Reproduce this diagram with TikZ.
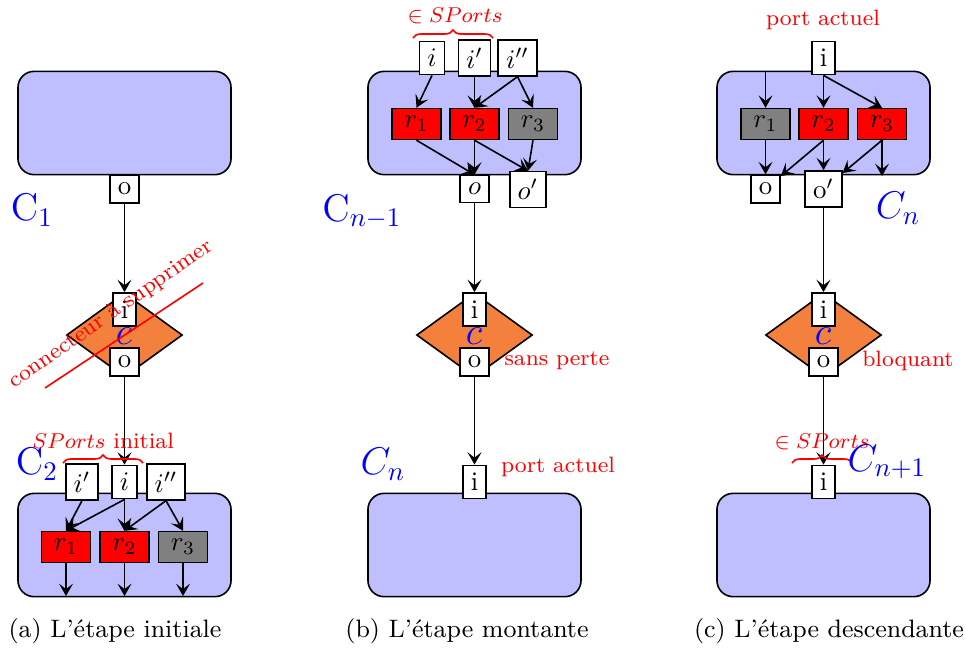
\documentclass[tikz,border=0pt]{standalone}
\usetikzlibrary{shapes.geometric,arrows.meta,decorations.pathreplacing}
\definecolor{lav}{RGB}{191,191,255}
\definecolor{diam}{RGB}{244,128,62}
\begin{document}
\begin{tikzpicture}[x=0.3727pt,y=-0.3727pt,
  >={Stealth[length=4.6pt,width=5.2pt,inset=2pt]},
  every path/.style={line width=0.6pt},
  lab/.style={font=\fontsize{8.3}{10}\selectfont},
  plab/.style={font=\fontsize{10}{12}\selectfont},
  comp/.style={draw,fill=lav,rounded corners=6pt,minimum width=79.4pt,minimum height=38.5pt,inner sep=0pt},
  dia/.style={draw,fill=diam,diamond,minimum width=43.2pt,minimum height=31.3pt,inner sep=0pt},
  port/.style={draw,fill=white,inner sep=2.9pt,plab},
  resA/.style={draw,fill=red,minimum width=18.2pt,minimum height=11.5pt,inner sep=0pt,plab},
  resI/.style={draw,fill=gray,minimum width=18.2pt,minimum height=11.5pt,inner sep=0pt,plab},
  big/.style={blue,font=\fontsize{14.4}{16}\selectfont,inner sep=0pt},
  note/.style={red,lab,inner sep=0pt},
  brc/.style={red,decorate,decoration={brace,amplitude=3pt}},
  captxt/.style={font=\fontsize{9.4}{12}\selectfont,inner sep=0pt}
]
\useasboundingbox (0,0) rectangle (966,649);

% ================= panel (a)
\node[comp] (CA1) at (124.5,123) {};
\node[comp] (CA2) at (124.5,545) {};
\node[dia] (dA) at (124.5,335) {};
\node[port] (oA1) at (124.5,189) {o};
\node[port] (iAd) at (124.5,309.5) {i};
\node[port] (oAd) at (124.5,362) {o};
\node[big] (cA) at (124,336) {$c$};
\node[port] (ipA) at (82,482) {$i'$};
\node[port] (iA) at (124.5,482) {$i$};
\node[port] (ippA) at (166,482) {$i''$};
\node[resA] (r1A) at (66,547) {$r_1$};
\node[resA] (r2A) at (124.5,547) {$r_2$};
\node[resI] (r3A) at (183,547) {$r_3$};
\coordinate (eA1) at (66,596);
\coordinate (eA2) at (124.5,596);
\coordinate (eA3) at (183,596);
\draw[->] (oA1) -- (iAd);
\draw[->] (oAd) -- (iA);
\draw[->] (ipA.south) -- (r1A.north);
\draw[->] (iA.south) -- (r1A.north);
\draw[->] (iA) -- (r2A);
\draw[->] (ippA.south) -- (r2A.north);
\draw[->] (ippA.south) -- (r3A.north);
\draw[->] (r1A) -- (eA1);
\draw[->] (r2A) -- (eA2);
\draw[->] (r3A) -- (eA3);
\node[big] (LC1) at (32,210) {$\mathrm{C}_1$};
\node[big] (LC2) at (37,464) {$\mathrm{C}_2$};
\coordinate (bA1) at (63,463);
\coordinate (bA2) at (143,463);
\draw[brc] (bA1) -- (bA2);
\node[note] (spA) at (103,441) {$SPorts$ initial};
\node[note,rotate=35] (del) at (111,314) {connecteur à supprimer};
\coordinate (sA1) at (45,388);
\coordinate (sA2) at (203,283);
\draw[red] (sA1) -- (sA2);
\node[captxt] (capA) at (115,631) {(a) L’étape initiale};

% ================= panel (b)
\node[comp] (CB1) at (474.5,123) {};
\node[comp] (CB2) at (474.5,545) {};
\node[dia] (dB) at (474.5,335) {};
\node[port] (iB) at (432,58) {$i$};
\node[port] (ipB) at (474.5,58) {$i'$};
\node[port] (ippB) at (517.5,58) {$i''$};
\node[resA] (r1B) at (416.5,124) {$r_1$};
\node[resA] (r2B) at (474.5,124) {$r_2$};
\node[resI] (r3B) at (533,124) {$r_3$};
\node[port] (oB) at (474.5,189) {$o$};
\node[port] (opB) at (528,189.5) {$o'$};
\node[port] (iBd) at (474.5,309.5) {i};
\node[port] (oBd) at (474.5,362) {o};
\node[big] (cB) at (474,336) {$c$};
\node[port] (iB2) at (474.5,482) {i};
\draw[->] (iB.south) -- (r1B.north);
\draw[->] (ipB) -- (r2B);
\draw[->] (ippB.south) -- (r2B.north);
\draw[->] (ippB.south) -- (r3B.north);
\draw[->] (r1B.south) -- (oB.north);
\draw[->] (r2B) -- (oB);
\draw[->] (r2B.south) -- (opB.north);
\draw[->] (r3B.south) -- (opB.north);
\draw[->] (oB) -- (iBd);
\draw[->] (oBd) -- (iB2);
\coordinate (bB1) at (413,38);
\coordinate (bB2) at (493,38);
\draw[brc] (bB1) -- (bB2);
\node[note] (spB) at (455,16) {$\in SPorts$};
\node[big] (LCB1) at (362,212) {$\mathrm{C}_{n-1}$};
\node[big] (LCB2) at (383,464) {$C_n$};
\node[note] (spB2) at (557,361) {sans perte};
\node[note] (paB) at (558,467) {port actuel};
\node[captxt] (capB) at (467,631) {(b) L’étape montante};

% ================= panel (c)
\node[comp] (CC1) at (823.5,123) {};
\node[comp] (CC2) at (823.5,545) {};
\node[dia] (dC) at (823.5,335) {};
\node[port] (iC) at (823.5,58) {i};
\node[resI] (r1C) at (765.5,124) {$r_1$};
\node[resA] (r2C) at (823.5,124) {$r_2$};
\node[resA] (r3C) at (882,124) {$r_3$};
\node[port] (oC) at (765.5,189) {o};
\node[port] (opC) at (823.5,189) {o$'$};
\node[port] (iCd) at (823.5,309.5) {i};
\node[port] (oCd) at (823.5,362) {o};
\node[big] (cC) at (823,336) {$c$};
\node[port] (iC2) at (823.5,482) {i};
\coordinate (tC) at (765.5,71);
\coordinate (bC) at (882,176);
\draw[->] (tC) -- (r1C);
\draw[->] (iC) -- (r2C);
\draw[->] (iC.south) -- (r3C.north);
\draw[->] (r1C) -- (oC);
\draw[->] (r2C.south) -- (oC);
\draw[->] (r2C) -- (opC);
\draw[->] (r3C.south) -- (opC);
\draw[->] (r3C) -- (bC);
\draw[->] (opC) -- (iCd);
\draw[->] (oCd) -- (iC2);
\node[note] (paC) at (823,20) {port actuel};
\node[big] (LCC1) at (898,208) {$C_n$};
\node[note] (blC) at (908,361) {bloquant};
\coordinate (bC1) at (792,463);
\coordinate (bC2) at (852,463);
\draw[brc] (bC1) -- (bC2);
\node[note] (spC) at (822,442) {$\in SPorts$};
\node[big] (LCC2) at (887,462) {$C_{n+1}$};
\node[captxt] (capC) at (829,631) {(c) L’étape descendante};
\end{tikzpicture}
\end{document}
